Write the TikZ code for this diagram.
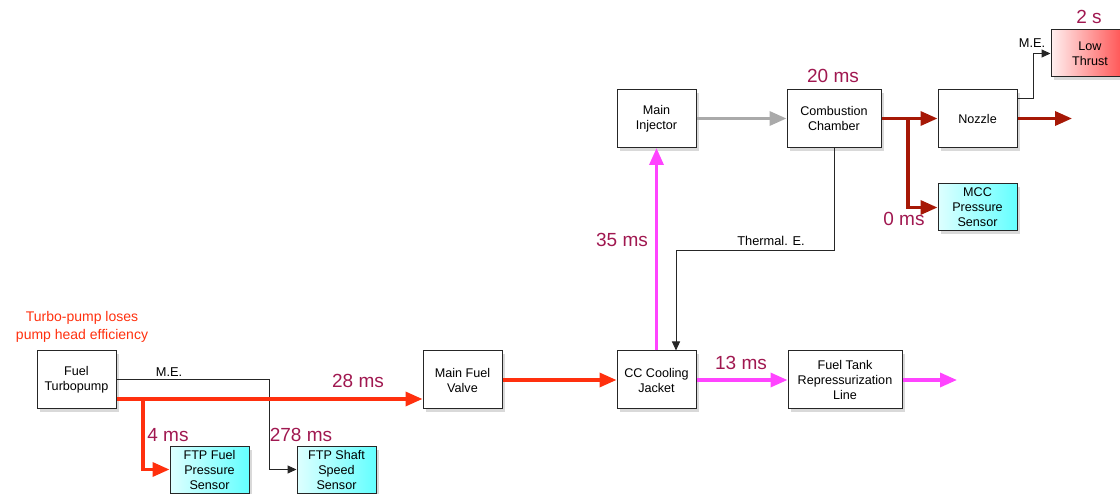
\documentclass[tikz,border=0pt]{standalone}
\usepackage{fontspec}
\setmainfont{Liberation Sans}
\usetikzlibrary{arrows.meta,shadows}
\definecolor{lblc}{RGB}{160,24,80}
\definecolor{redc}{RGB}{255,48,14}
\definecolor{dredc}{RGB}{166,24,6}
\definecolor{magc}{RGB}{255,68,255}
\definecolor{grayc}{RGB}{170,170,170}
\definecolor{cyanl}{RGB}{222,255,255}
\definecolor{cyanr}{RGB}{100,255,255}
\definecolor{pinkl}{RGB}{255,240,240}
\definecolor{pinkr}{RGB}{255,70,70}
\begin{document}
\begin{tikzpicture}[x=1pt,y=-1pt,
  box/.style={draw=black!85,line width=1pt,fill=white,align=center,inner sep=1pt,
    minimum width=79pt,minimum height=58pt,font=\fontsize{12.6}{15}\selectfont,
    drop shadow={shadow xshift=2.5pt,shadow yshift=-3.5pt,opacity=0.3}},
  sensor/.style={box,minimum height=47pt,left color=cyanl,right color=cyanr},
  thick arrow/.style={line width=3.4pt,-{Triangle[length=17pt,width=14pt]}},
  redarr/.style={thick arrow,draw=redc,color=redc},
  dredarr/.style={thick arrow,draw=dredc,color=dredc},
  magarr/.style={thick arrow,draw=magc,color=magc},
  grayarr/.style={thick arrow,draw=grayc,color=grayc},
  thinarr/.style={draw=black!85,line width=1pt,-{Triangle[length=9pt,width=8pt]}},
  tlabel/.style={text=lblc,font=\fontsize{19}{20}\selectfont,anchor=base,inner sep=0pt},
  slabel/.style={text=black,font=\fontsize{12.8}{14}\selectfont,anchor=base,inner sep=0pt}]
\useasboundingbox (0,0) rectangle (1120,494);

% boxes
\node[box] (ft) at (76.5,380) {Fuel\\Turbopump};
\node[box] (mfv) at (462.5,380) {Main Fuel\\Valve};
\node[box] (ccj) at (656.5,380) {CC Cooling\\Jacket};
\node[box,minimum width=114pt] (ftrl) at (845,380) {Fuel Tank\\Repressurization\\Line};
\node[box] (mi) at (656.5,118.5) {Main\\Injector};
\node[box,minimum width=94pt] (cc) at (834,118.5) {Combustion\\Chamber};
\node[box] (nz) at (977.5,118.5) {Nozzle};
\node[box,minimum width=78pt,minimum height=47pt,left color=pinkl,right color=pinkr] (lt) at (1090,53.5) {Low\\Thrust};
\node[sensor] (mcc) at (977.5,207.5) {MCC\\Pressure\\Sensor};
\node[sensor] (ftpf) at (209.5,469.5) {FTP Fuel\\Pressure\\Sensor};
\node[sensor] (ftps) at (336.5,469.5) {FTP Shaft\\Speed\\Sensor};

% coordinates
\coordinate (rb) at (143,399);
\coordinate (me1) at (269,380);
\coordinate (th) at (676,251);
\coordinate (db) at (908,118.5);
\coordinate (lb) at (1033,99);
\coordinate (out1) at (957,380);
\coordinate (out2) at (1072,118.5);

% connectors
\draw[thinarr] (ft.east) -- (me1) |- (ftps.west);
\draw[redarr] ([yshift=-19pt]ft.east) -- ([yshift=-19pt]mfv.west);
\draw[redarr] (rb) |- (ftpf.west);
\draw[redarr] (mfv.east) -- (ccj.west);
\draw[magarr] (ccj.north) -- (mi.south);
\draw[thinarr] (cc.south) |- (th) -- (th |- ccj.north);
\draw[magarr] (ccj.east) -- (ftrl.west);
\draw[magarr] (ftrl.east) -- (out1);
\draw[grayarr] (mi.east) -- (cc.west);
\draw[dredarr] (cc.east) -- (nz.west);
\draw[dredarr] (db) |- (mcc.west);
\draw[dredarr] (nz.east) -- (out2);
\draw[thinarr] ([yshift=19.5pt]nz.east) -- (lb) |- (lt.west);

% labels
\node[text=redc,align=center,font=\fontsize{14}{17.5}\selectfont,inner sep=0pt] (cause) at (82,327) {Turbo-pump loses\\pump head efficiency};
\node[slabel] (me) at (169,377) {M.E.};
\node[tlabel] (l28) at (358,388) {28 ms};
\node[tlabel] (l4) at (168,442) {4 ms};
\node[tlabel] (l278) at (301,442) {278 ms};
\node[tlabel] (l13) at (741,370) {13 ms};
\node[tlabel] (l35) at (622,247) {35 ms};
\node[slabel] (thl) at (771,246) {Thermal. E.};
\node[tlabel] (l20) at (833,83) {20 ms};
\node[tlabel] (l0) at (904,226) {0 ms};
\node[tlabel] (l2) at (1089,24) {2 s};
\node[slabel] (me2) at (1032,48) {M.E.};
\end{tikzpicture}
\end{document}
